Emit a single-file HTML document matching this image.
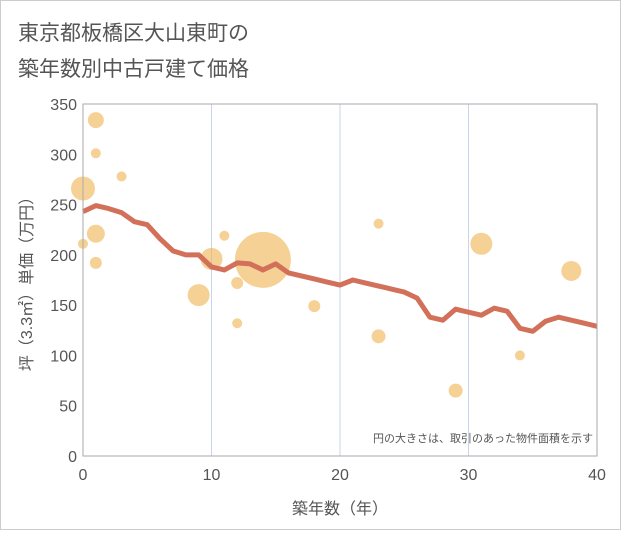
<!DOCTYPE html>
<html><head><meta charset="utf-8"><style>
body{margin:0;background:#fff;font-family:"Liberation Sans","Noto Sans CJK JP",sans-serif}
</style></head><body>
<svg width="621" height="530" xmlns="http://www.w3.org/2000/svg">
<rect x="0.5" y="0.5" width="620" height="529" fill="#fff" stroke="#ccc"/>
<text x="18" y="40" font-size="21" fill="#555" font-family="Liberation Sans,Noto Sans CJK JP,sans-serif">東京都板橋区大山東町の</text>
<text x="18" y="76" font-size="21" fill="#555" font-family="Liberation Sans,Noto Sans CJK JP,sans-serif">築年数別中古戸建て価格</text>
<g id="grid"></g><g id="bubbles"></g><g id="line"></g><g id="axes"></g>
<rect x="83" y="104" width="514" height="352" fill="none" stroke="#aaa"/>
<text x="593" y="442" font-size="11" fill="#555" text-anchor="end" font-family="Liberation Sans,Noto Sans CJK JP,sans-serif">円の大きさは、取引のあった物件面積を示す</text>
<text x="340" y="514" font-size="16" fill="#555" text-anchor="middle" font-family="Liberation Sans,Noto Sans CJK JP,sans-serif">築年数（年）</text>
<text transform="translate(32,280) rotate(-90)" font-size="16" fill="#555" text-anchor="middle" font-family="Liberation Sans,Noto Sans CJK JP,sans-serif">坪（3.3㎡）単価（万円）</text>
</svg>
<script>
const xTicks=[0,10,20,30,40];
const yTicks=[0,50,100,150,200,250,300,350];
const lineYears=[0,1,2,3,4,5,6,7,8,9,10,11,12,13,14,15,16,17,18,19,20,21,22,23,24,25,26,27,28,29,30,31,32,33,34,35,36,37,38,39,40];
const linePrices=[243,249,246,242,233,230,216,204,200,200,188,185,192,191,185,191,182,179,176,173,170,175,172,169,166,163,157,138,135,146,143,140,147,144,127,124,134,138,135,132,129];
const bubbleYears=[0,1,1,3,1,0,1,10,9,11,12,12,14,18,23,23,29,31,34,38];
const bubblePrices=[266,334,301,278,221,211,192,196,160,219,172,132,195,149,231,119,65,211,100,184];
const bubbleSizes=[12,8,5,5,9,5,6,11,11,5,6,5,28,6,5,7,7,11,5,10];
const NS="http://www.w3.org/2000/svg";
const X=v=>83+v*(514/40), Y=v=>456-v*(352/350);
const grid=document.getElementById('grid'),axes=document.getElementById('axes');
function mk(tag,attrs,parent){const e=document.createElementNS(NS,tag);for(const k in attrs)e.setAttribute(k,attrs[k]);parent.appendChild(e);return e;}
xTicks.forEach(t=>{
 if(t>0&&t<40){const l=mk('line',{x1:X(t),x2:X(t),y1:104,y2:456,stroke:'#c5d6ea'},grid);
 
 }
 const tx=mk('text',{x:X(t),y:480,'font-size':16,fill:'#555','text-anchor':'middle'},axes);tx.textContent=t;
 
 
});
yTicks.forEach(t=>{
 const tx=mk('text',{x:77,y:Y(t)+6,'font-size':16,fill:'#555','text-anchor':'end'},axes);tx.textContent=t;
 
 
});
const bg=document.getElementById('bubbles');
bubbleYears.forEach((yr,i)=>{
 const c=mk('circle',{cx:X(yr),cy:Y(bubblePrices[i]),r:bubbleSizes[i],fill:'#f0b24e','fill-opacity':0.6},bg);
 
 
});
const p=mk('polyline',{points:lineYears.map((yr,i)=>X(yr)+','+Y(linePrices[i])).join(' '),fill:'none',stroke:'#d2705a','stroke-width':5,'stroke-linejoin':'round'},document.getElementById('line'));


</script>
</body></html>
